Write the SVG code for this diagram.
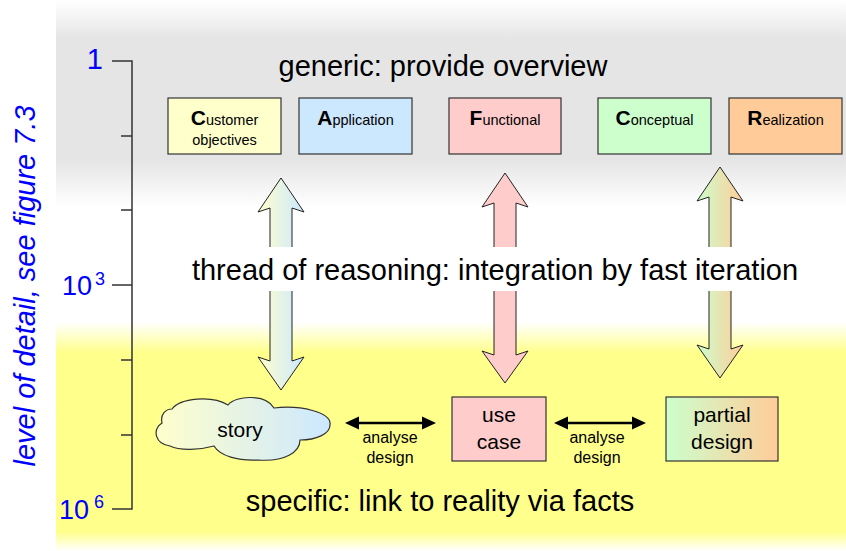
<svg xmlns="http://www.w3.org/2000/svg" width="846" height="551" viewBox="0 0 846 551">
<defs>
<linearGradient id="bg" x1="0" y1="0" x2="0" y2="1">
<stop offset="0" stop-color="#ffffff"/>
<stop offset="0.07" stop-color="#e5e5e5"/>
<stop offset="0.29" stop-color="#e5e5e5"/>
<stop offset="0.375" stop-color="#ffffff"/>
<stop offset="0.585" stop-color="#ffffff"/>
<stop offset="0.64" stop-color="#ffff8c"/>
<stop offset="0.965" stop-color="#ffff8c"/>
<stop offset="1" stop-color="#ffffff"/>
</linearGradient>
<linearGradient id="yb" x1="0" y1="0" x2="1" y2="0">
<stop offset="0" stop-color="#ffffcc"/>
<stop offset="1" stop-color="#cce8ff"/>
</linearGradient>
<linearGradient id="go" x1="0" y1="0" x2="1" y2="0">
<stop offset="0" stop-color="#ccffcc"/>
<stop offset="1" stop-color="#ffcc99"/>
</linearGradient>
<style>
text{font-family:"Liberation Sans",Arial,sans-serif;fill:#000}
.ax{fill:#0000ff;font-size:29px}
.big{font-size:29px;text-anchor:middle}
.box{stroke:#333;stroke-width:1.2}
.bt{font-size:14.5px;text-anchor:middle}
.ini{font-size:21px;font-weight:bold}
.dbl{stroke:#222;stroke-width:1}
.lbl{font-size:16px;text-anchor:middle}
.bot{font-size:21px;text-anchor:middle}
.ln{stroke:#000;stroke-width:2.5}
</style>
</defs>
<rect x="56" y="0" width="790" height="551" fill="url(#bg)"/>
<g id="axis" stroke="#333" stroke-width="1.5" fill="none">
<path d="M112,61 H132 V509 H112"/>
<path d="M121,136 H132 M121,210 H132 M112,285 H132 M121,360 H132 M121,435 H132"/>
</g>
<g id="axis-labels">
<text class="ax" x="103" y="69" text-anchor="end">1</text>
<text class="ax" x="62" y="295" style="font-size:27px">10</text>
<text class="ax" x="95" y="285" style="font-size:18px">3</text>
<text class="ax" x="59" y="519" style="font-size:27px">10</text>
<text class="ax" x="94" y="508" style="font-size:18px">6</text>
<text class="ax" transform="translate(35,286) rotate(-90)" text-anchor="middle" font-style="italic">level of detail, see figure 7.3</text>
</g>
<text class="big" x="443" y="76">generic: provide overview</text>
<g id="connectors">
<polygon class="dbl" fill="url(#yb)" points="281,178 304,212 292,208 292,361 304,357 281,390 258,357 270,361 270,208 258,212"/>
<polygon class="dbl" fill="#ffcccc" points="505,173 528,207 516,203 516,355 528,351 505,383 482,351 494,355 494,203 482,207"/>
<polygon class="dbl" fill="url(#go)" points="720,167 743,201 731,197 731,349 743,345 720,378 697,345 709,349 709,197 697,201"/>
<g>
<line class="ln" x1="355" y1="423" x2="426" y2="423"/>
<polygon points="345,423 359,416.5 359,429.5"/>
<polygon points="436,423 422,416.5 422,429.5"/>
</g>
<g>
<line class="ln" x1="564" y1="423" x2="636" y2="423"/>
<polygon points="554,423 568,416.5 568,429.5"/>
<polygon points="646,423 632,416.5 632,429.5"/>
</g>
</g>
<rect x="190" y="247" width="612" height="44" fill="#ffffff"/>
<text class="big" x="495" y="280">thread of reasoning: integration by fast iteration</text>
<g id="customer">
<rect class="box" x="168" y="98" width="113" height="56" fill="#ffffcc"/>
<text class="bt" x="224.5" y="125"><tspan class="ini">C</tspan>ustomer</text>
<text class="bt" x="224.5" y="145">objectives</text>
</g>
<g id="application">
<rect class="box" x="299" y="98" width="113" height="56" fill="#cce8ff"/>
<text class="bt" x="355.5" y="125"><tspan class="ini">A</tspan>pplication</text>
</g>
<g id="functional">
<rect class="box" x="449" y="98" width="112" height="56" fill="#ffcccc"/>
<text class="bt" x="505" y="125"><tspan class="ini">F</tspan>unctional</text>
</g>
<g id="conceptual">
<rect class="box" x="598" y="98" width="113" height="56" fill="#ccffcc"/>
<text class="bt" x="654.5" y="125"><tspan class="ini">C</tspan>onceptual</text>
</g>
<g id="realization">
<rect class="box" x="729" y="98" width="113" height="56" fill="#ffcc99"/>
<text class="bt" x="785.5" y="125"><tspan class="ini">R</tspan>ealization</text>
</g>
<g id="story">
<path class="box" fill="url(#yb)" d="M170,446 C155,444 152,430 162,423 C160,414 166,409 172,409 C180,398 212,395 228,405 C236,395 266,394 274,408 C300,405 332,412 330,425 C330,434 316,440 300,440 C300,452 285,462 258,460 C238,461 220,456 214,446 C200,450 180,451 170,446 Z"/>
<text class="bot" x="240" y="437">story</text>
</g>
<g id="usecase">
<rect class="box" x="452" y="397" width="94" height="64" fill="#ffcccc"/>
<text class="bot" x="499" y="422">use</text>
<text class="bot" x="499" y="449">case</text>
</g>
<g id="partial">
<rect class="box" x="666" y="397" width="112" height="64" fill="url(#go)"/>
<text class="bot" x="722" y="422">partial</text>
<text class="bot" x="722" y="449">design</text>
</g>
<g id="labels">
<text class="lbl" x="390" y="443">analyse</text>
<text class="lbl" x="390" y="463">design</text>
<text class="lbl" x="597" y="443">analyse</text>
<text class="lbl" x="597" y="463">design</text>
</g>
<text class="big" x="440" y="511">specific: link to reality via facts</text>
</svg>
